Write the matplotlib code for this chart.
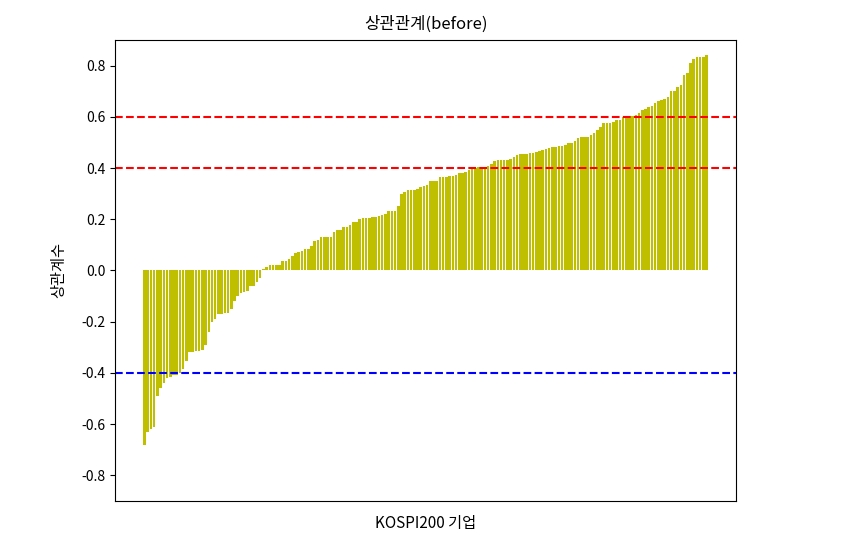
import matplotlib
matplotlib.use('Agg')
import matplotlib.pyplot as plt

plt.rcParams['font.family'] = ['Noto Sans CJK KR', 'DejaVu Sans']
plt.rcParams['axes.unicode_minus'] = False

# correlation of each KOSPI200 company, sorted ascending
corr = [
    -0.68, -0.63, -0.62, -0.61, -0.49, -0.46, -0.44, -0.42, -0.415, -0.41,
    -0.41, -0.40, -0.385, -0.355, -0.32, -0.32, -0.315, -0.315, -0.31, -0.29,
    -0.24, -0.20, -0.19, -0.17, -0.17, -0.165, -0.165, -0.15, -0.12, -0.10,
    -0.09, -0.085, -0.08, -0.06, -0.06, -0.045, -0.03, 0.004, 0.013, 0.02,
    0.02, 0.022, 0.023, 0.035, 0.035, 0.043, 0.058, 0.07, 0.071, 0.075,
    0.082, 0.085, 0.095, 0.115, 0.118, 0.131, 0.131, 0.131, 0.132, 0.149,
    0.16, 0.16, 0.168, 0.17, 0.179, 0.188, 0.19, 0.20, 0.204, 0.204,
    0.205, 0.209, 0.21, 0.212, 0.215, 0.22, 0.233, 0.233, 0.234, 0.253,
    0.30, 0.308, 0.313, 0.316, 0.316, 0.318, 0.326, 0.331, 0.335, 0.348,
    0.348, 0.349, 0.364, 0.364, 0.365, 0.368, 0.369, 0.373, 0.381, 0.382,
    0.386, 0.394, 0.398, 0.40, 0.404, 0.404, 0.405, 0.407, 0.417, 0.426,
    0.43, 0.431, 0.433, 0.433, 0.435, 0.443, 0.451, 0.454, 0.456, 0.456,
    0.457, 0.459, 0.464, 0.466, 0.469, 0.474, 0.477, 0.482, 0.482, 0.485,
    0.487, 0.491, 0.498, 0.498, 0.504, 0.517, 0.521, 0.521, 0.522, 0.53,
    0.539, 0.547, 0.56, 0.576, 0.577, 0.578, 0.581, 0.586, 0.589, 0.599,
    0.604, 0.604, 0.605, 0.608, 0.615, 0.625, 0.63, 0.638, 0.643, 0.656,
    0.664, 0.667, 0.669, 0.677, 0.70, 0.702, 0.718, 0.725, 0.764, 0.771,
    0.812, 0.825, 0.833, 0.833, 0.835, 0.842,
]
upper_lines = [0.6, 0.4]
lower_lines = [-0.4]
yticks = [-0.8, -0.6, -0.4, -0.2, 0.0, 0.2, 0.4, 0.6, 0.8]
ytick_labels = ['-0.8', '-0.6', '-0.4', '-0.2', '0.0', '0.2', '0.4', '0.6', '0.8']

fig = plt.figure(figsize=(8.46, 5.42), dpi=100)
ax = fig.add_axes([0.136, 0.076, 0.734, 0.850])

ax.bar(range(len(corr)), corr, color='y')
for v in upper_lines:
    ax.axhline(v, color='r', linestyle='--', linewidth=1.5)
for v in lower_lines:
    ax.axhline(v, color='b', linestyle='--', linewidth=1.5)

ax.set_ylim(-0.9, 0.9)
ax.set_yticks(yticks)
ax.set_yticklabels(ytick_labels)
ax.set_xticks([])
ax.set_title('상관관계(before)', fontsize=12, pad=8)
ax.set_ylabel('상관계수', fontsize=11, labelpad=10)
ax.set_xlabel('KOSPI200 기업', fontsize=11, labelpad=10)

fig.savefig('out.png', dpi=100)
